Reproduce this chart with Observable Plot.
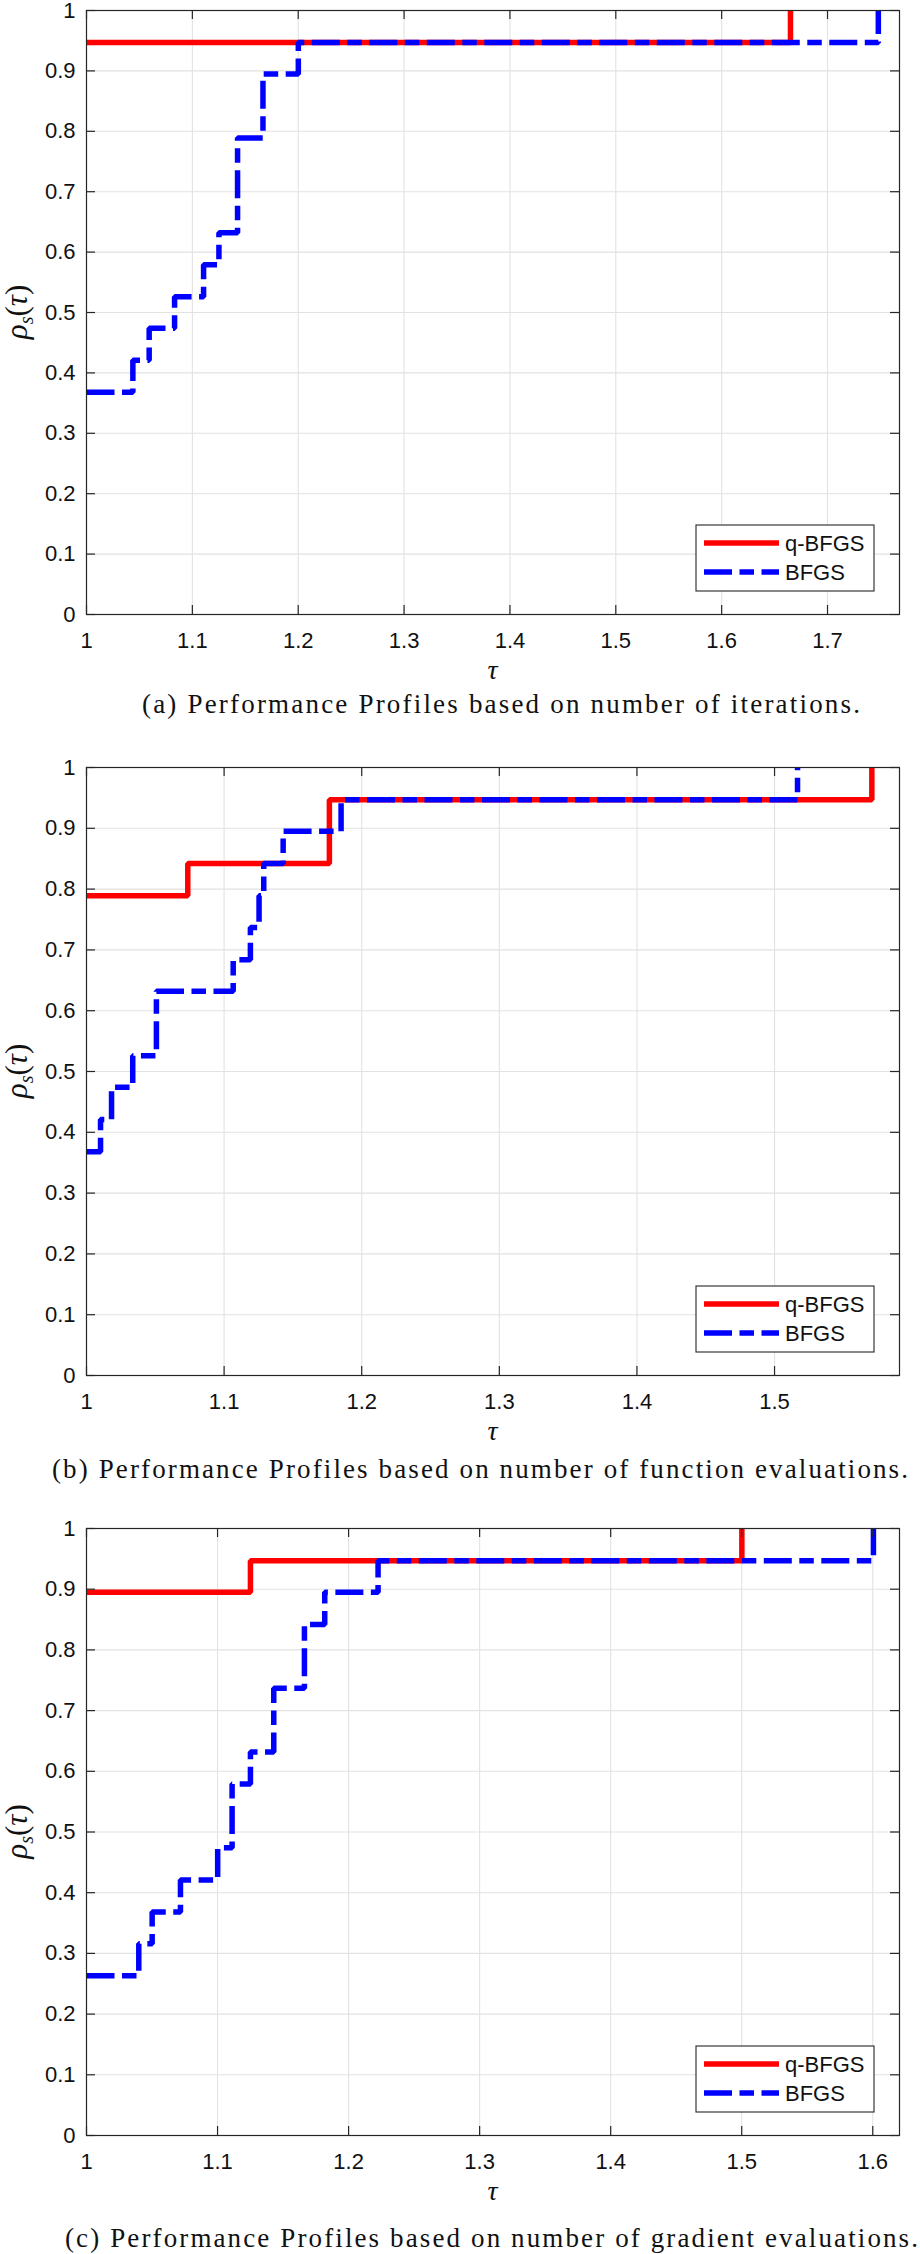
<!DOCTYPE html>
<html>
<head>
<meta charset="utf-8">
<script src="https://cdn.jsdelivr.net/npm/d3@7"></script>
<script src="https://cdn.jsdelivr.net/npm/@observablehq/plot@0.6"></script>
<style>
  html, body { margin: 0; padding: 0; background: #fff; }
  #root { position: relative; width: 920px; height: 2254px; overflow: hidden; background: #fff; }
</style>
</head>
<body>
<div id="root"></div>
<script>
// ---------------- data ----------------
const seriesNames = ["q-BFGS", "BFGS"];
const yTicks = [0, 0.1, 0.2, 0.3, 0.4, 0.5, 0.6, 0.7, 0.8, 0.9, 1];

// (a) number of iterations
const xTicksA = [1, 1.1, 1.2, 1.3, 1.4, 1.5, 1.6, 1.7];
const xMaxA = 1.768;
const tauA_q = [1, 1.665];
const rhoA_q = [0.947, 1];
const tauA_b = [1, 1.0438, 1.0592, 1.0832, 1.1106, 1.1251, 1.1427, 1.1667, 1.2001, 1.748];
const rhoA_b = [0.368, 0.421, 0.474, 0.526, 0.579, 0.632, 0.789, 0.895, 0.947, 1];

// (b) number of function evaluations
const xTicksB = [1, 1.1, 1.2, 1.3, 1.4, 1.5];
const xMaxB = 1.5908;
const tauB_q = [1, 1.0736, 1.1765, 1.5707];
const rhoB_q = [0.789, 0.842, 0.947, 1];
const tauB_b = [1, 1.0102, 1.0182, 1.0336, 1.0508, 1.1066, 1.1191, 1.1254, 1.1288, 1.1429, 1.1850, 1.5167];
const rhoB_b = [0.368, 0.421, 0.474, 0.526, 0.632, 0.684, 0.737, 0.789, 0.842, 0.895, 0.947, 1];

// (c) number of gradient evaluations
const xTicksC = [1, 1.1, 1.2, 1.3, 1.4, 1.5, 1.6];
const xMaxC = 1.6204;
const tauC_q = [1, 1.1251, 1.5001];
const rhoC_q = [0.895, 0.947, 1];
const tauC_b = [1, 1.0399, 1.0501, 1.0717, 1.1001, 1.1111, 1.1251, 1.1429, 1.1663, 1.1818, 1.2225, 1.6005];
const rhoC_b = [0.263, 0.316, 0.368, 0.421, 0.474, 0.579, 0.632, 0.737, 0.842, 0.895, 0.947, 1];

const captionA = "(a) Performance Profiles based on number of iterations.";
const captionB = "(b) Performance Profiles based on number of function evaluations.";
const captionC = "(c) Performance Profiles based on number of gradient evaluations.";

// ---------------- drawing ----------------
const root = document.getElementById("root");
const RED = "#ff0000", BLUE = "#0000ff", AX = "#262626";
const DASH = "28,7.5,14.5,7.5";
const SANS = "'Liberation Sans', Arial, Helvetica, sans-serif";
const SERIF = "'Liberation Serif', 'Times New Roman', serif";

function zip(t, r) { return t.map((tau, i) => ({tau, rho: r[i]})); }

function panel({xMax, xTicks, q, b, plotTop, plotH, caption, capBase, capX1, capX2}) {
  const W = 920, mL = 86, mR = 21, mT = 10, mB = 72;
  const plotW = W - mL - mR;
  const H = mT + plotH + mB;
  const fmt = d => String(d);
  const svg = Plot.plot({
    width: W, height: H,
    marginLeft: mL, marginRight: mR, marginTop: mT, marginBottom: mB,
    style: {background: "transparent", color: "#111", fontFamily: SANS, fontSize: "22px", overflow: "visible"},
    x: {domain: [1, xMax], label: null},
    y: {domain: [0, 1], label: null},
    marks: [
      Plot.gridX(xTicks, {stroke: "#e2e2e2", strokeOpacity: 1, strokeWidth: 1.1}),
      Plot.gridY(yTicks, {stroke: "#e2e2e2", strokeOpacity: 1, strokeWidth: 1.1}),
      Plot.line(q, {x: "tau", y: "rho", curve: "step-after", stroke: RED, strokeWidth: 5.5, strokeLinejoin: "miter", strokeLinecap: "butt", clip: true}),
      Plot.line(b, {x: "tau", y: "rho", curve: "step-after", stroke: BLUE, strokeWidth: 5.5, strokeDasharray: DASH, strokeLinejoin: "miter", strokeLinecap: "butt", clip: true}),
      Plot.frame({stroke: AX, strokeWidth: 1.2}),
      Plot.tickX(xTicks, {insetTop: plotH - 9, stroke: AX, strokeWidth: 1.2}),
      Plot.tickX(xTicks, {insetBottom: plotH - 9, stroke: AX, strokeWidth: 1.2}),
      Plot.tickY(yTicks, {insetRight: plotW - 9, stroke: AX, strokeWidth: 1.2}),
      Plot.tickY(yTicks, {insetLeft: plotW - 9, stroke: AX, strokeWidth: 1.2}),
      Plot.axisX(xTicks, {tickSize: 0, tickPadding: 18, tickFormat: fmt, label: null}),
      Plot.axisY(yTicks, {tickSize: 0, tickPadding: 11, tickFormat: fmt, label: null})
    ]
  });
  svg.style.position = "absolute";
  svg.style.left = "0px";
  svg.style.top = (plotTop - mT) + "px";

  const s = d3.select(svg);
  const bottom = mT + plotH;

  // x label
  s.append("text").attr("x", (mL + W - mR) / 2).attr("y", bottom + 65)
    .attr("text-anchor", "middle").attr("font-family", SERIF).attr("font-size", 28)
    .attr("font-style", "italic").attr("fill", "#111").text("τ");

  // y label  ρ_s(τ)
  const yl = s.append("text")
    .attr("transform", `translate(27,${mT + plotH / 2}) rotate(-90)`)
    .attr("text-anchor", "middle").attr("font-family", SERIF).attr("font-size", 31).attr("fill", "#111");
  yl.append("tspan").attr("font-style", "italic").text("ρ");
  yl.append("tspan").attr("font-style", "italic").attr("font-size", 20).attr("dy", 6).text("s");
  yl.append("tspan").attr("dy", -6).text("(");
  yl.append("tspan").attr("font-style", "italic").text("τ");
  yl.append("tspan").text(")");

  // legend
  const lg = s.append("g").attr("text-anchor", "start");
  const lx0 = 696, lx1 = 874, ly0 = bottom - 89, ly1 = bottom - 23;
  lg.append("rect").attr("x", lx0).attr("y", ly0).attr("width", lx1 - lx0).attr("height", ly1 - ly0)
    .attr("fill", "#fff").attr("stroke", AX).attr("stroke-width", 1.1);
  const rows = [
    {name: seriesNames[0], color: RED, dash: null, y: bottom - 71},
    {name: seriesNames[1], color: BLUE, dash: DASH, y: bottom - 42}
  ];
  for (const r of rows) {
    lg.append("line").attr("x1", 704).attr("x2", 779).attr("y1", r.y).attr("y2", r.y)
      .attr("stroke", r.color).attr("stroke-width", 5.5).attr("stroke-dasharray", r.dash);
    lg.append("text").attr("x", 785).attr("y", r.y).attr("dy", "0.36em")
      .attr("text-anchor", "start")
      .attr("font-family", SANS).attr("font-size", 22).attr("fill", "#111").text(r.name);
  }
  root.appendChild(svg);

  // caption
  const cap = d3.create("svg").attr("width", 920).attr("height", 44)
    .style("position", "absolute").style("left", "0px").style("top", (capBase - 32) + "px");
  cap.append("text").attr("x", capX1).attr("y", 32)
    .attr("textLength", capX2 - capX1).attr("lengthAdjust", "spacing")
    .attr("font-family", SERIF).attr("font-size", 27).attr("fill", "#111").text(caption);
  root.appendChild(cap.node());
}

panel({xMax: xMaxA, xTicks: xTicksA, q: zip(tauA_q, rhoA_q), b: zip(tauA_b, rhoA_b),
       plotTop: 10, plotH: 604, caption: captionA, capBase: 713, capX1: 142, capX2: 860});
panel({xMax: xMaxB, xTicks: xTicksB, q: zip(tauB_q, rhoB_q), b: zip(tauB_b, rhoB_b),
       plotTop: 767, plotH: 608, caption: captionB, capBase: 1478, capX1: 52, capX2: 908});
panel({xMax: xMaxC, xTicks: xTicksC, q: zip(tauC_q, rhoC_q), b: zip(tauC_b, rhoC_b),
       plotTop: 1528, plotH: 607, caption: captionC, capBase: 2247, capX1: 65, capX2: 918});
</script>
</body>
</html>
